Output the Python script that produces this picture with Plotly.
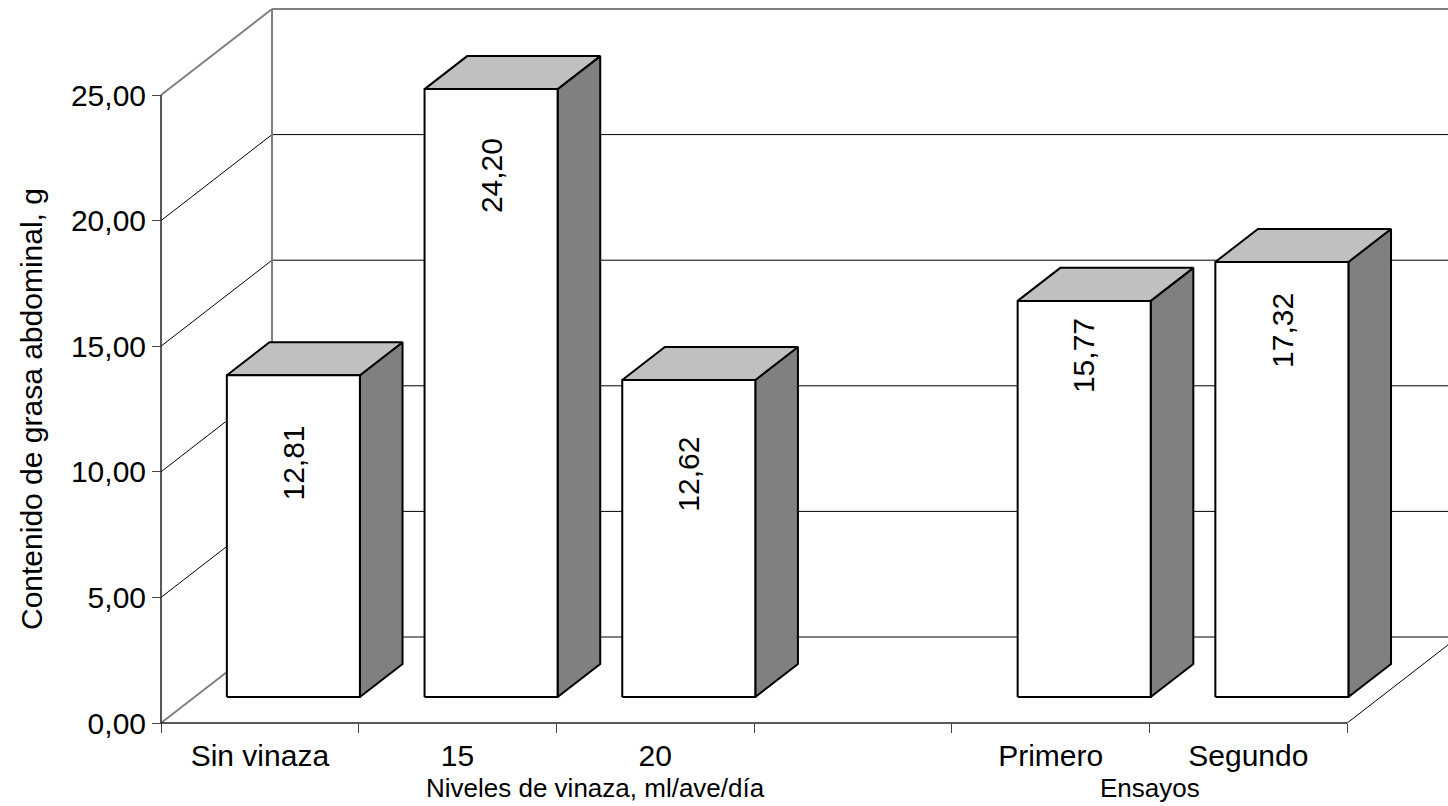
import plotly.graph_objects as go

# ---- data ----
categories = ["Sin vinaza", "15", "20", "", "Primero", "Segundo"]
grasa = [12.81, 24.20, 12.62, None, 15.77, 17.32]
group_titles = ["Niveles de vinaza, ml/ave/día", "Ensayos"]
value_ticks = [0, 5, 10, 15, 20, 25]
y_title = "Contenido de grasa abdominal, g"

# ---- page geometry (pixels) ----
W, H = 1448, 806
AXIS_LEFT_PX = 161      # pixel column of the value axis
SLOT_PX = 197.7         # width of one category slot
ZERO_PX = 723           # pixel row of value 0 on the front plane
UNIT_PX = 25.12         # pixels per value unit

# axis ranges: x in category-slot units, y in value units
x_range = [-AXIS_LEFT_PX / SLOT_PX, (W - AXIS_LEFT_PX) / SLOT_PX]
y_range = [-(H - ZERO_PX) / UNIT_PX, ZERO_PX / UNIT_PX]

# oblique depth of the box (slot units / value units)
DEPTH_X = 111 / SLOT_PX
DEPTH_Y = 86 / UNIT_PX
BAR_FRONT = 0.302       # depth fraction of the bar front faces
BAR_BACK = 0.686        # depth fraction of the bar back faces
BAR_HALF = 0.3365       # half bar width, slot units
V_MAX = value_ticks[-1]

# styling
FONT = "Liberation Sans, Arial, sans-serif"
WALL = "#808080"
GRID = "#000000"
TOP_FILL = "#C0C0C0"
SIDE_FILL = "#808080"
# vertical drop of each value label below its bar top (value units)
label_offset = [3.50, 3.46, 3.74, None, 2.19, 2.71]

n = len(categories)
fig = go.Figure()


def line(xs, ys, color, width):
    fig.add_trace(go.Scatter(x=xs, y=ys, mode="lines",
                             line=dict(color=color, width=width),
                             hoverinfo="skip", showlegend=False))


x_far = x_range[1] + 1

# back wall gridlines and left wall diagonals
for v in value_ticks:
    edge = v in (0, V_MAX)
    col = WALL if edge else GRID
    w = 2 if edge else 1
    line([DEPTH_X, x_far], [v + DEPTH_Y, v + DEPTH_Y], col, w)
    line([0, DEPTH_X], [v, v + DEPTH_Y], col, w)

# back wall left edge
line([DEPTH_X, DEPTH_X], [DEPTH_Y, V_MAX + DEPTH_Y], WALL, 2)
# floor right edge
line([n, n + DEPTH_X], [0, DEPTH_Y], GRID, 1)
# front value axis line and floor front edge
line([0, 0], [0, V_MAX], "#111111", 1.4)
line([0, n], [0, 0], "#222222", 1.4)

# bars as oblique prisms
fx, fy, tx, ty, sx, sy = [], [], [], [], [], []
ox0, oy0 = BAR_FRONT * DEPTH_X, BAR_FRONT * DEPTH_Y
ox1, oy1 = BAR_BACK * DEPTH_X, BAR_BACK * DEPTH_Y
for i, v in enumerate(grasa):
    if v is None:
        continue
    c = i + 0.5
    l, r = c - BAR_HALF + ox0, c + BAR_HALF + ox0
    lb, rb = c - BAR_HALF + ox1, c + BAR_HALF + ox1
    bot, top = oy0, oy0 + v
    botb, topb = oy1, oy1 + v
    fx += [l, r, r, l, l, None]
    fy += [bot, bot, top, top, bot, None]
    tx += [l, r, rb, lb, l, None]
    ty += [top, top, topb, topb, top, None]
    sx += [r, rb, rb, r, r, None]
    sy += [bot, botb, topb, top, bot, None]

for xs, ys, fill in ((sx, sy, SIDE_FILL), (tx, ty, TOP_FILL), (fx, fy, "#FFFFFF")):
    fig.add_trace(go.Scatter(x=xs, y=ys, mode="lines", fill="toself",
                             fillcolor=fill, line=dict(color="black", width=2),
                             hoverinfo="skip", showlegend=False))

# value labels inside the bars
for i, v in enumerate(grasa):
    if v is None:
        continue
    fig.add_annotation(x=i + 0.5 + ox0, y=oy0 + v - label_offset[i],
                       text=f"{v:.2f}".replace(".", ","), textangle=-90,
                       showarrow=False, xanchor="center", yanchor="middle",
                       font=dict(family=FONT, size=30, color="black"))

# group titles under the category axis
fig.add_annotation(x=2.2, y=-2.6, text=group_titles[0], showarrow=False,
                   xanchor="center", yanchor="middle",
                   font=dict(family=FONT, size=26, color="black"))
fig.add_annotation(x=5.0, y=-2.6, text=group_titles[1], showarrow=False,
                   xanchor="center", yanchor="middle",
                   font=dict(family=FONT, size=26, color="black"))

# value-axis title
fig.add_annotation(xref="paper", x=31 / W, y=V_MAX / 2, text=y_title,
                   textangle=-90, showarrow=False, xanchor="center",
                   yanchor="middle",
                   font=dict(family=FONT, size=30, color="black"))

fig.update_layout(
    width=W, height=H,
    margin=dict(l=0, r=0, t=0, b=0),
    paper_bgcolor="white", plot_bgcolor="white",
    separators=", ",
    font=dict(family=FONT, color="black"),
    xaxis=dict(
        range=x_range, anchor="free", position=(H - ZERO_PX) / H,
        tickmode="array", tickvals=[i + 0.5 for i in range(n)],
        ticktext=categories, ticks="", showgrid=False, zeroline=False,
        showline=False, ticklabelstandoff=12,
        tickfont=dict(family=FONT, size=30, color="black"),
        minor=dict(tickmode="array", tickvals=list(range(n + 1)),
                   ticks="outside", ticklen=9, tickcolor="#444444",
                   tickwidth=1, showgrid=False),
    ),
    yaxis=dict(
        range=y_range, anchor="free", position=AXIS_LEFT_PX / W,
        tickmode="array", tickvals=value_ticks, tickformat=".2f",
        ticks="outside", ticklen=9, tickcolor="#444444", tickwidth=1,
        showgrid=False, zeroline=False, showline=False,
        tickfont=dict(family=FONT, size=30, color="black"),
    ),
)

fig.write_html("out.html")
